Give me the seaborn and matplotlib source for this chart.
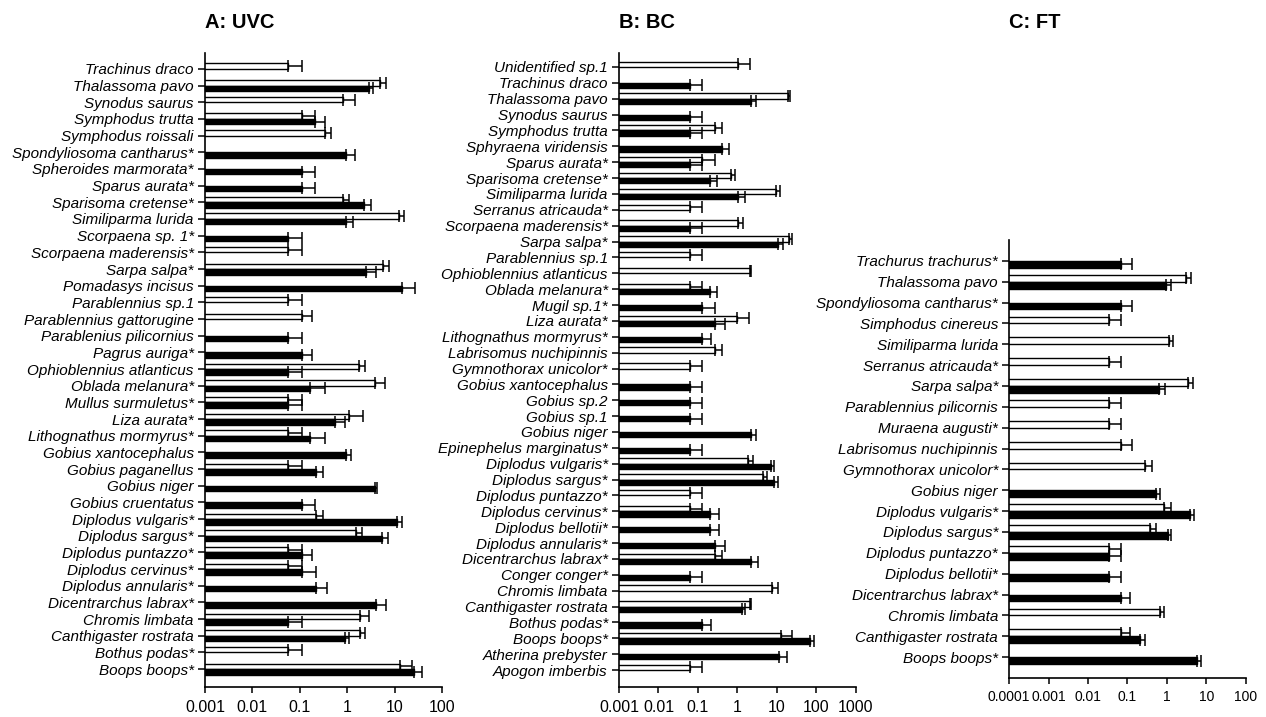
import numpy as np
import pandas as pd
import matplotlib
matplotlib.use("Agg")
import matplotlib.pyplot as plt
import seaborn as sns
from matplotlib.ticker import NullLocator

# ---- Panel A: UVC ----
species_a = ["Trachinus draco", "Thalassoma pavo", "Synodus saurus", "Symphodus trutta",
             "Symphodus roissali", "Spondyliosoma cantharus*", "Spheroides marmorata*",
             "Sparus aurata*", "Sparisoma cretense*", "Similiparma lurida", "Scorpaena sp. 1*",
             "Scorpaena maderensis*", "Sarpa salpa*", "Pomadasys incisus", "Parablennius sp.1",
             "Parablennius gattorugine", "Parablenius pilicornius", "Pagrus auriga*",
             "Ophioblennius atlanticus", "Oblada melanura*", "Mullus surmuletus*", "Liza aurata*",
             "Lithognathus mormyrus*", "Gobius xantocephalus", "Gobius paganellus", "Gobius niger",
             "Gobius cruentatus", "Diplodus vulgaris*", "Diplodus sargus*", "Diplodus puntazzo*",
             "Diplodus cervinus*", "Diplodus annularis*", "Dicentrarchus labrax*", "Chromis limbata",
             "Canthigaster rostrata", "Bothus podas*", "Boops boops*"]
white_a = [0.057, 5.0, 0.82, 0.114, 0.336, None, None, None, 0.82, 12.7, None, 0.057, 5.7, None,
           0.057, 0.114, None, None, 1.75, 3.8, 0.057, 1.08, 0.057, None, 0.057, None, None,
           0.217, 1.51, 0.057, 0.057, None, None, 1.83, 1.83, 0.057, 12.8]
white_a_up = [0.114, 6.7, 1.49, 0.207, 0.465, None, None, None, 1.08, 16.2, None, 0.114, 7.6, None,
              0.114, 0.185, None, None, 2.41, 6.4, 0.114, 2.15, 0.114, None, 0.114, None, None,
              0.31, 2.05, 0.114, 0.114, None, None, 2.88, 2.41, 0.114, 23.4]
black_a = [None, 2.9, None, 0.207, None, 0.93, 0.114, 0.114, 2.22, 0.93, 0.057, None, 2.45, 14.5,
           None, None, 0.057, 0.114, 0.057, 0.168, 0.057, 0.546, 0.168, 0.96, 0.217, 3.8, 0.114,
           11.2, 5.5, 0.114, 0.114, 0.217, 3.98, 0.057, 0.886, None, 25.2]
black_a_up = [None, 3.5, None, 0.336, None, 1.49, 0.207, 0.207, 3.23, 1.33, 0.114, None, 3.98, 26.4,
              None, None, 0.114, 0.185, 0.114, 0.336, 0.114, 0.886, 0.336, 1.22, 0.31, 4.25, 0.207,
              14.5, 7.24, 0.185, 0.217, 0.376, 6.68, 0.114, 1.08, None, 38.5]

# ---- Panel B: BC ----
species_b = ["Unidentified sp.1", "Trachinus draco", "Thalassoma pavo", "Synodus saurus",
             "Symphodus trutta", "Sphyraena viridensis", "Sparus aurata*", "Sparisoma cretense*",
             "Similiparma lurida", "Serranus atricauda*", "Scorpaena maderensis*", "Sarpa salpa*",
             "Parablennius sp.1", "Ophioblennius atlanticus", "Oblada melanura*", "Mugil sp.1*",
             "Liza aurata*", "Lithognathus mormyrus*", "Labrisomus nuchipinnis",
             "Gymnothorax unicolor*", "Gobius xantocephalus", "Gobius sp.2", "Gobius sp.1",
             "Gobius niger", "Epinephelus marginatus*", "Diplodus vulgaris*", "Diplodus sargus*",
             "Diplodus puntazzo*", "Diplodus cervinus*", "Diplodus bellotii*", "Diplodus annularis*",
             "Dicentrarchus labrax*", "Conger conger*", "Chromis limbata", "Canthigaster rostrata",
             "Bothus podas*", "Boops boops*", "Atherina prebyster", "Apogon imberbis"]
white_b = [1.04, None, 19.1, None, 0.266, None, 0.127, 0.68, 9.7, 0.064, 1.04, 20.3, 0.064, 2.05,
           0.064, None, 1.0, None, 0.266, 0.064, None, None, None, None, None, 1.85, 4.45, 0.064,
           0.064, None, None, 0.275, None, 7.68, 2.05, None, 13.0, None, 0.064]
white_b_up = [2.05, None, 21.9, None, 0.41, None, 0.266, 0.89, 12.2, 0.127, 1.39, 24.5, 0.127, 2.25,
              0.127, None, 1.97, None, 0.41, 0.127, None, None, None, None, None, 2.48, 5.62, 0.127,
              0.127, None, None, 0.41, None, 10.7, 2.25, None, 24.5, None, 0.127]
black_b = [None, 0.064, 2.17, 0.064, 0.064, 0.41, 0.064, 0.198, 1.04, None, 0.064, 10.7, None, None,
           0.198, 0.127, 0.266, 0.127, None, None, 0.064, 0.064, 0.064, 2.25, 0.064, 7.24, 8.3,
           None, 0.198, 0.198, 0.275, 2.17, 0.064, None, 1.33, 0.127, 70.5, 11.3, None]
black_b_up = [None, 0.127, 2.9, 0.127, 0.127, 0.61, 0.127, 0.304, 1.53, None, 0.127, 14.3, None, None,
              0.304, 0.266, 0.475, 0.219, None, None, 0.127, 0.127, 0.127, 2.9, 0.127, 8.3, 10.7,
              None, 0.342, 0.342, 0.475, 3.33, 0.127, None, 1.53, 0.219, 85.6, 18.1, None]

# ---- Panel C: FT ----
species_c = ["Trachurus trachurus*", "Thalassoma pavo", "Spondyliosoma cantharus*",
             "Simphodus cinereus", "Similiparma lurida", "Serranus atricauda*", "Sarpa salpa*",
             "Parablennius pilicornis", "Muraena augusti*", "Labrisomus nuchipinnis",
             "Gymnothorax unicolor*", "Gobius niger", "Diplodus vulgaris*", "Diplodus sargus*",
             "Diplodus puntazzo*", "Diplodus bellotii*", "Dicentrarchus labrax*", "Chromis limbata",
             "Canthigaster rostrata", "Boops boops*"]
white_c = [None, 3.11, None, 0.034, 1.13, 0.034, 3.43, 0.034, 0.034, 0.07, 0.274, None, 0.83,
           0.381, 0.034, None, None, 0.66, 0.07, None]
white_c_up = [None, 4.17, None, 0.0675, 1.38, 0.0675, 4.59, 0.0675, 0.0675, 0.133, 0.42, None, 1.30,
              0.52, 0.0675, None, None, 0.83, 0.114, None]
black_c = [0.07, 0.933, 0.07, None, None, None, 0.63, None, None, None, None, 0.541, 3.78, 1.07,
           0.034, 0.034, 0.07, None, 0.205, 5.8]
black_c_up = [0.133, 1.30, 0.133, None, None, None, 0.88, None, None, None, None, 0.683, 4.78, 1.30,
              0.0675, 0.0675, 0.114, None, 0.274, 7.05]

ticks_a = [0.001, 0.01, 0.1, 1, 10, 100]
ticks_b = [0.001, 0.01, 0.1, 1, 10, 100, 1000]
ticks_c = [0.0001, 0.001, 0.01, 0.1, 1, 10, 100]
tick_labels_a = ["0.001", "0.01", "0.1", "1", "10", "100"]
tick_labels_b = ["0.001", "0.01", "0.1", "1", "10", "100", "1000"]
tick_labels_c = ["0.0001", "0.001", "0.01", "0.1", "1", "10", "100"]

sns.set_theme(style="ticks")
plt.rcParams["font.family"] = ["Liberation Sans", "DejaVu Sans"]


def draw_panel(ax, species, white, white_up, black, black_up, ticks, tick_labels, ylim,
               xlabel_size=11.5):
    rows = []
    for i, sp in enumerate(species):
        if white[i] is not None:
            rows.append({"species": sp, "group": "white", "value": white[i], "upper": white_up[i]})
        if black[i] is not None:
            rows.append({"species": sp, "group": "black", "value": black[i], "upper": black_up[i]})
    df = pd.DataFrame(rows)
    upper = df.set_index(["species", "group"])["upper"]

    sns.barplot(data=df, y="species", x="value", hue="group", order=species,
                hue_order=["white", "black"], palette={"white": "white", "black": "black"},
                orient="h", width=0.66, errorbar=None, edgecolor="black", linewidth=1.0,
                legend=False, ax=ax)

    # one-sided error bars at the end of each bar
    for cont, grp in zip(ax.containers, ["white", "black"]):
        for bar in cont:
            w = bar.get_width()
            if not np.isfinite(w):
                continue
            yc = bar.get_y() + bar.get_height() / 2
            sp = species[int(round(yc))]
            up = upper[(sp, grp)]
            ax.errorbar(w, yc, xerr=[[0], [up - w]], fmt="none", ecolor="black",
                        elinewidth=1.1, capsize=4.5, capthick=1.1)

    ax.set_xscale("log")
    ax.set_xlim(ticks[0], ticks[-1])
    ax.set_ylim(*ylim)
    ax.set_xticks(ticks)
    ax.set_xticklabels(tick_labels)
    ax.xaxis.set_minor_locator(NullLocator())
    ax.set_xlabel("")
    ax.set_ylabel("")
    sns.despine(ax=ax)
    for s in ["left", "bottom"]:
        ax.spines[s].set_color("black")
        ax.spines[s].set_linewidth(1.2)
    ax.tick_params(axis="y", length=5, width=1.1, pad=3, labelsize=11, colors="black")
    ax.tick_params(axis="x", length=4, width=1.1, pad=5, labelsize=xlabel_size, colors="black")
    for lab in ax.get_yticklabels():
        lab.set_fontstyle("italic")


fig = plt.figure(figsize=(12.66, 7.17), dpi=100)
ax_a = fig.add_axes([0.1619, 0.0418, 0.1872, 0.8843])
ax_b = fig.add_axes([0.4889, 0.0418, 0.1872, 0.8843])
ax_c = fig.add_axes([0.7970, 0.0544, 0.1872, 0.6109])

draw_panel(ax_a, species_a, white_a, white_a_up, black_a, black_a_up, ticks_a, tick_labels_a,
           (37.08, -0.96))
draw_panel(ax_b, species_b, white_b, white_b_up, black_b, black_b_up, ticks_b, tick_labels_b,
           (39.07, -0.88))
draw_panel(ax_c, species_c, white_c, white_c_up, black_c, black_c_up, ticks_c, tick_labels_c,
           (20.0, -1.0), xlabel_size=10)

for ax, title in [(ax_a, "A: UVC"), (ax_b, "B: BC"), (ax_c, "C: FT")]:
    x0 = ax.get_position().x0
    fig.text(x0, 1 - 22 / 717, title, ha="left", va="center", fontsize=14.5,
             fontweight="bold", color="black")

fig.savefig("out.png", dpi=100)
